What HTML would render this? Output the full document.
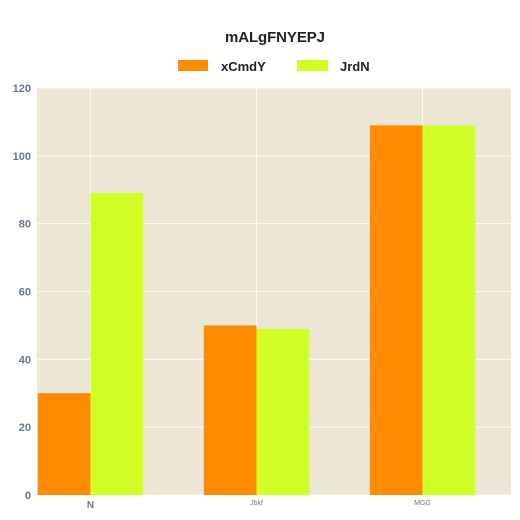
<!DOCTYPE html>
<html><head><meta charset="utf-8"><style>
body{margin:0;background:#fff;}
svg{display:block;font-family:"Liberation Sans",sans-serif;}
</style></head><body>
<svg id="c" width="520" height="520">
<text x="275" y="42" text-anchor="middle" font-size="15" font-weight="bold" fill="#222" textLength="100">mALgFNYEPJ</text>
<rect x="178" y="60" width="30" height="11" fill="#ff8c00"/>
<text x="221" y="71" font-size="13" font-weight="bold" fill="#222">xCmdY</text>
<rect x="297" y="60" width="31" height="11" fill="#d0ff26"/>
<text x="340" y="71" font-size="13" font-weight="bold" fill="#222">JrdN</text>
<rect x="37" y="88" width="474" height="407" fill="#eee6d4"/>
<g id="grid"></g><g id="bars"></g><g id="axes"></g>
</svg>
<script>
const categories=["N","Jbkf","MGG"];
const seriesA=[30,50,109];
const seriesB=[89,49,109];
const yTicks=[0,20,40,60,80,100,120];
const ns="http://www.w3.org/2000/svg";
const y0=495,y1=88,yMax=120;
function y(v){return y0-(v/yMax)*(y0-y1);}
function xc(i){return 90.5+i*166;}
const bw=52.7;
const grid=document.getElementById('grid'),bars=document.getElementById('bars'),axes=document.getElementById('axes');
function mk(t,a,p){const e=document.createElementNS(ns,t);for(const k in a)e.setAttribute(k,a[k]);p.appendChild(e);return e;}
yTicks.forEach(t=>{
  const l=mk('line',{x1:37,x2:511,y1:y(t),y2:y(t),stroke:'#fff','stroke-width':0.8},grid);
  
  
  const tx=mk('text',{x:31,y:y(t)+4,'text-anchor':'end','font-size':11,'font-weight':'bold',fill:'#667788'},axes);
  tx.textContent=t;
  
  
});
categories.forEach((c,i)=>{
  const l=mk('line',{x1:xc(i),x2:xc(i),y1:y1,y2:y0,stroke:'#fff','stroke-width':0.8},grid);
  
  
  const a=mk('rect',{x:xc(i)-bw,y:y(seriesA[i]),width:bw,height:y0-y(seriesA[i]),fill:'#ff8c00'},bars);
  
  
  const b=mk('rect',{x:xc(i),y:y(seriesB[i]),width:bw,height:y0-y(seriesB[i]),fill:'#d0ff26'},bars);
  
  
  const big=i===0;
  const tx=mk('text',{x:xc(i),y:big?508:505,'text-anchor':'middle','font-size':big?10:7,'font-weight':big?'bold':'normal',fill:'#667788'},axes);
  tx.textContent=c;
  
  
});
</script>
</body></html>
